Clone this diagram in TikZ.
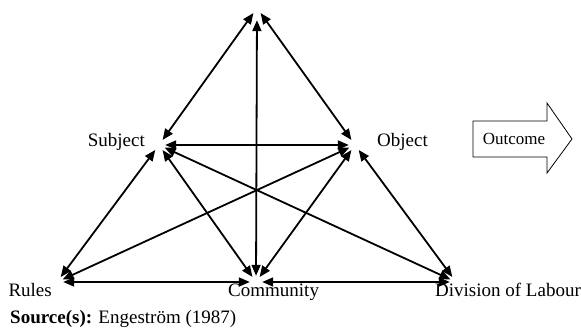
\documentclass[tikz,border=0pt]{standalone}
\usepackage{fontspec}
\setmainfont{Liberation Serif}
\usepackage{tikz}
\usetikzlibrary{arrows.meta, positioning}

\begin{document}
\begin{tikzpicture}[
    x=1pt, y=-1pt,
    corner/.style={circle, inner sep=0pt, minimum size=12pt},
    label/.style={inner sep=0pt, font=\fontsize{19}{23}\selectfont},
    link/.style={{Triangle[length=11pt, width=9pt]}-{Triangle[length=11pt, width=9pt]}, line width=1.8pt},
    outbox/.style={draw=black, line width=0.8pt}
]
\useasboundingbox (0,0) rectangle (581,328);

% corners of the activity triangle
\node[corner] (Tool) at (257,8) {};
\node[corner] (Subject) at (159,145) {};
\node[corner] (Object) at (355,145) {};
\node[corner] (Rules) at (57,282) {};
\node[corner] (Community) at (256,282) {};
\node[corner] (Division) at (456,282) {};

% labels
\node[label, anchor=base east] (SubjectText) at (145,147) {Subject};
\node[label, anchor=base west] (ObjectText) at (377,147) {Object};
\node[label, anchor=base east] (RulesText) at (52,297) {Rules};
\node[label, anchor=base west] (CommunityText) at (228,297) {Community};
\node[label, anchor=base west] (DivisionText) at (435,297) {Division of Labour};
\node[label, anchor=base west] (Source) at (10,324) {\textbf{Source(s):} Engeström (1987)};

% outcome arrow
\draw[outbox] (473,121) -- (547,121) -- (547,103) -- (572,139) -- (547,173)
    -- (547,157) -- (473,157) -- cycle;
\node[label, font=\fontsize{17}{20}\selectfont] (Outcome) at (514,139) {Outcome};

\draw[link] (Tool) -- (Subject);
\draw[link] (Tool) -- (Object);
\draw[link, shorten <=6pt] (Tool) -- (Community);
\draw[link] (Subject) -- (Object);
\draw[link] (Subject) -- (Rules);
\draw[link] (Subject) -- (Community);
\draw[link] (Subject) -- (Division);
\draw[link] (Object) -- (Rules);
\draw[link] (Object) -- (Community);
\draw[link] (Object) -- (Division);
\draw[link] (Rules) -- (Community);
\draw[link] (Community) -- (Division);

\end{tikzpicture}
\end{document}
